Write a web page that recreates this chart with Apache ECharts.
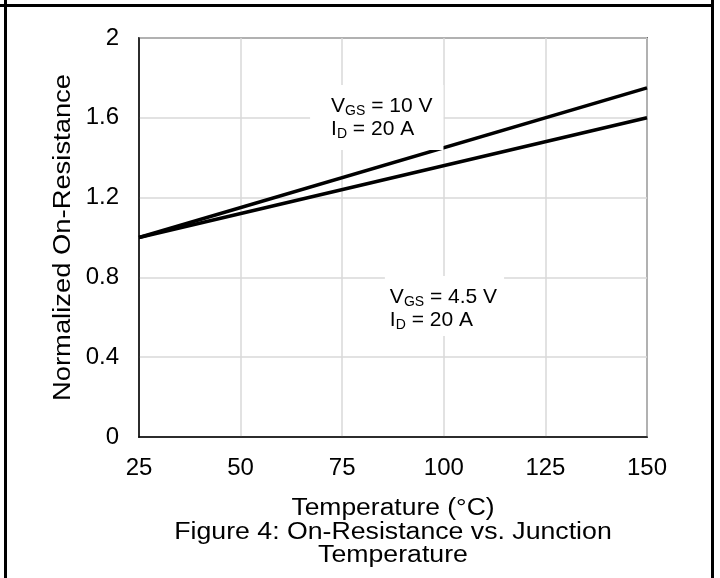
<!DOCTYPE html>
<html>
<head>
<meta charset="utf-8">
<script src="https://cdn.jsdelivr.net/npm/echarts@6/dist/echarts.min.js"></script>
<style>
html,body{margin:0;padding:0;background:#fff;}
#c{width:720px;height:578px;}
</style>
</head>
<body>
<div id="c"></div>
<script>
// Data
var temperature = [25, 150];
var rdsVgs10 = [1.0, 1.75];
var rdsVgs45 = [1.0, 1.6];
var xTicks = [25, 50, 75, 100, 125, 150];
var yTicks = [0, 0.4, 0.8, 1.2, 1.6, 2];
var xName = 'Temperature (°C)';
var yName = 'Normalized On-Resistance';
var titleText = 'Figure 4: On-Resistance vs. Junction\nTemperature';
var label10 = { lines: [['V', 'GS', ' = 10 V'], ['I', 'D', ' = 20 A']], at: [67.1, 1.764] };
var label45 = { lines: [['V', 'GS', ' = 4.5 V'], ['I', 'D', ' = 20 A']], at: [85.5, 0.807] };

var FONT = '"Liberation Sans", Arial, sans-serif';
var chart = echarts.init(document.getElementById('c'), null, { renderer: 'canvas' });

function toPairs(xs, ys) { return xs.map(function (x, i) { return [x, ys[i]]; }); }
function richText(lines) {
  return lines.map(function (l) { return '{v|' + l[0] + '}{s|' + l[1] + '}{v|' + l[2] + '}'; }).join('\n');
}

var option = {
  animation: false,
  backgroundColor: '#fff',
  grid: { left: 139, right: 73, top: 38, bottom: 141, show: true, borderColor: '#000', borderWidth: 1.5, backgroundColor: 'transparent' },
  xAxis: {
    type: 'value', min: xTicks[0], max: xTicks[xTicks.length - 1], interval: 25,
    axisLine: { show: true, lineStyle: { color: '#000', width: 1.5 } },
    axisTick: { show: false },
    axisLabel: { fontFamily: FONT, fontSize: 24, color: '#000', margin: 19 },
    splitLine: { show: true, lineStyle: { color: '#d9d9d9', width: 1.5 } }
  },
  yAxis: {
    type: 'value', min: yTicks[0], max: yTicks[yTicks.length - 1], interval: 0.4,
    axisLine: { show: true, lineStyle: { color: '#000', width: 1.5 } },
    axisTick: { show: false },
    axisLabel: { fontFamily: FONT, fontSize: 24, color: '#000', margin: 20,
      formatter: function (v) { return String(Math.round(v * 10) / 10); } },
    splitLine: { show: true, lineStyle: { color: '#d9d9d9', width: 1.5 } }
  },
  series: [
    { type: 'line', data: toPairs(temperature, rdsVgs10), symbol: 'none', lineStyle: { color: '#000', width: 3.5 }, z: 3 },
    { type: 'line', data: toPairs(temperature, rdsVgs45), symbol: 'none', lineStyle: { color: '#000', width: 3.5 }, z: 3 }
  ]
};
chart.setOption(option);

function labelGraphic(lab, padding) {
  var p = chart.convertToPixel({ gridIndex: 0 }, lab.at);
  return {
    type: 'text', x: p[0], y: p[1], z: 10,
    style: {
      text: richText(lab.lines),
      fill: '#000',
      backgroundColor: '#fff',
      padding: padding,
      rich: {
        v: { fontFamily: FONT, fontSize: 21, fill: '#000', lineHeight: 23, verticalAlign: 'middle' },
        s: { fontFamily: FONT, fontSize: 14, fill: '#000', lineHeight: 15, verticalAlign: 'bottom' }
      }
    }
  };
}

var gridRect = chart.getModel().getComponent('grid', 0).coordinateSystem.getRect();
var cx = gridRect.x + gridRect.width / 2;
var cy = gridRect.y + gridRect.height / 2;
var bottomY = gridRect.y + gridRect.height;

chart.setOption({
  graphic: [
    labelGraphic(label10, [10, 11, 9, 21]),
    labelGraphic(label45, [10, 7, 4, 5]),
    { type: 'text', x: cx, y: bottomY + 72, scaleX: 1.15, z: 10,
      style: { text: xName, fontFamily: FONT, fontSize: 23, fill: '#000', textAlign: 'center', textVerticalAlign: 'middle' } },
    { type: 'text', x: gridRect.x - 75, y: cy, rotation: Math.PI / 2, scaleX: 1.19, z: 10,
      style: { text: yName, fontFamily: FONT, fontSize: 23, fill: '#000', textAlign: 'center', textVerticalAlign: 'middle' } },
    { type: 'text', x: cx, y: bottomY + 107.5, scaleX: 1.16, z: 10,
      style: { text: titleText, fontFamily: FONT, fontSize: 23, lineHeight: 23, fill: '#000', textAlign: 'center', textVerticalAlign: 'middle' } },
    { type: 'line', z: 20, shape: { x1: 0, y1: 5.5, x2: 714, y2: 5.5 }, style: { stroke: '#000', lineWidth: 3 } },
    { type: 'line', z: 20, shape: { x1: 5.5, y1: 0, x2: 5.5, y2: 578 }, style: { stroke: '#000', lineWidth: 3 } },
    { type: 'line', z: 20, shape: { x1: 712.5, y1: 0, x2: 712.5, y2: 578 }, style: { stroke: '#000', lineWidth: 3 } }
  ]
});
</script>
</body>
</html>
